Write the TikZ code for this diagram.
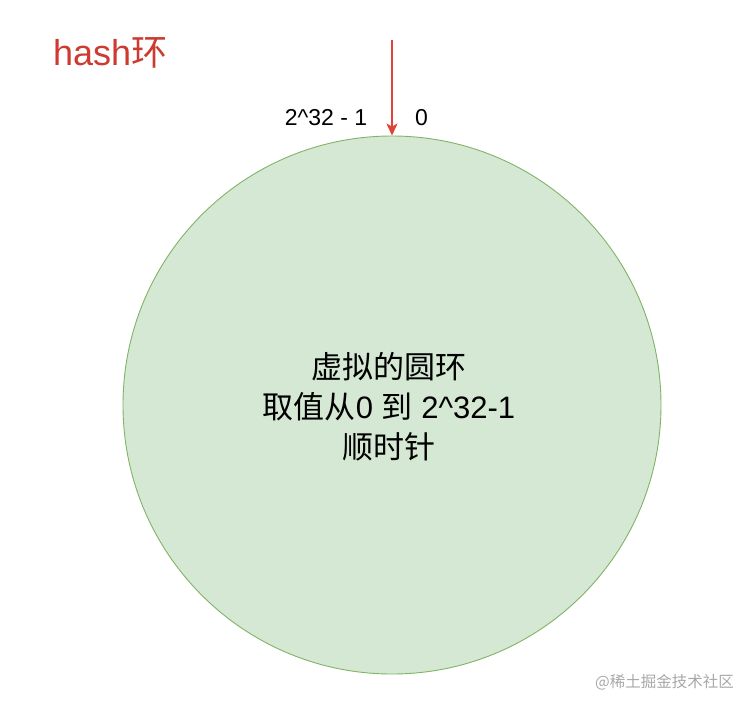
\documentclass[tikz,border=0pt]{standalone}
\usepackage{fontspec}
\setmainfont{Liberation Sans}
\newfontfamily\cjk{Noto Sans CJK SC}
\usetikzlibrary{arrows.meta}
\definecolor{ringfill}{HTML}{D5E8D4}
\definecolor{ringline}{HTML}{82B366}
\definecolor{titlered}{HTML}{CC3A30}
\definecolor{arrowred}{HTML}{DF4437}
\definecolor{wmgray}{HTML}{A8A8A8}
\tikzset{
  ring/.style={circle, draw=ringline, fill=ringfill, line width=0.9pt, minimum size=538pt, inner sep=0pt},
  marklabel/.style={inner sep=0pt, font=\fontsize{23}{26}\selectfont, text=black},
  pointer/.style={draw=arrowred, line width=1.4pt, -{Stealth[length=12pt,width=11pt,inset=3pt]}},
}
\begin{document}
\begin{tikzpicture}[x=1pt,y=1pt]
\useasboundingbox (0,0) rectangle (756,-710);
\node[ring] (ring) at (392,-405) {};
\node[inner sep=0pt, align=center, font=\fontsize{31}{40}\selectfont] (desc) at (389,-407)
  {{\cjk 虚拟的圆环}\\{\cjk 取值从}0 {\cjk 到} 2\textasciicircum 32-1\\{\cjk 顺时针}};
\node[anchor=base west, inner sep=0pt, text=titlered, font=\fontsize{36}{40}\selectfont] (title) at (53,-65) {hash{\cjk 环}};
\node[marklabel] (high) at (326,-117.5) {2\textasciicircum 32 - 1};
\node[marklabel] (zero) at (421.5,-117.5) {0};
\coordinate (src) at (392,-40);
\draw[pointer] (src) -- (ring.north);
\node[anchor=base west, inner sep=0pt, text=wmgray, font=\cjk\fontsize{15.5}{18}\selectfont] (wm) at (595,-687) {@稀土掘金技术社区};
\end{tikzpicture}
\end{document}
